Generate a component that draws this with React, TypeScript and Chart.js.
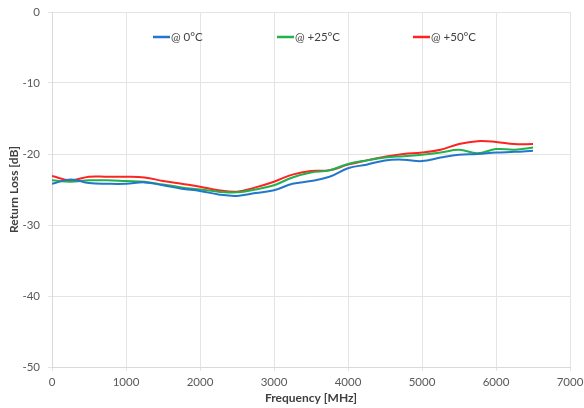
import React, { useEffect, useRef } from "react";
import { Chart, registerables } from "chart.js";

Chart.register(...registerables);

const frequencies = [0, 250, 500, 750, 1000, 1250, 1500, 1750, 2000, 2250, 2500, 2750, 3000, 3250, 3500, 3750, 4000, 4250, 4500, 4750, 5000, 5250, 5500, 5750, 6000, 6250, 6500];
const rl0C = [-24.2, -23.6, -24.1, -24.2, -24.2, -24.0, -24.4, -24.9, -25.2, -25.7, -25.9, -25.5, -25.1, -24.2, -23.8, -23.2, -22.0, -21.5, -20.9, -20.8, -21.0, -20.5, -20.1, -20.0, -19.8, -19.7, -19.55];
const rl25C = [-23.7, -23.9, -23.7, -23.7, -23.8, -23.9, -24.3, -24.7, -25.0, -25.3, -25.4, -25.0, -24.4, -23.3, -22.6, -22.3, -21.4, -20.9, -20.5, -20.3, -20.1, -19.8, -19.4, -19.9, -19.3, -19.4, -19.1];
const rl50C = [-23.1, -23.7, -23.2, -23.2, -23.2, -23.3, -23.8, -24.2, -24.6, -25.1, -25.3, -24.7, -23.9, -22.9, -22.4, -22.3, -21.5, -20.9, -20.4, -20.0, -19.8, -19.4, -18.6, -18.2, -18.3, -18.6, -18.6];
const seriesLabels = ["@ 0°C", "@ +25°C", "@ +50°C"];
const seriesColors = ["#2277c9", "#22b14c", "#ff2222"];

const FONT = "Lato, 'Liberation Sans', sans-serif";

const insideLegend = {
  id: "insideLegend",
  afterDraw(chart: any) {
    const ctx = chart.ctx;
    const area = chart.chartArea;
    const y = area.top + 25;
    const starts = [153, 277, 413];
    ctx.save();
    ctx.font = `11.5px ${FONT}`;
    ctx.textBaseline = "middle";
    chart.data.datasets.forEach((ds: any, i: number) => {
      const x = starts[i];
      ctx.strokeStyle = ds.borderColor;
      ctx.lineWidth = 2.5;
      ctx.beginPath();
      ctx.moveTo(x, y);
      ctx.lineTo(x + 17, y);
      ctx.stroke();
      ctx.fillStyle = "#404040";
      ctx.fillText(ds.label, x + 18, y);
    });
    ctx.restore();
  },
};

export default function App() {
  const ref = useRef<HTMLCanvasElement | null>(null);
  useEffect(() => {
    document.body.style.margin = "0";
    const data = [rl0C, rl25C, rl50C];
    const chart = new Chart(ref.current as HTMLCanvasElement, {
      type: "line",
      data: {
        datasets: data.map((vals, i) => ({
          label: seriesLabels[i],
          data: frequencies.map((f, j) => ({ x: f, y: vals[j] })),
          borderColor: seriesColors[i],
          backgroundColor: seriesColors[i],
          borderWidth: 2,
          pointRadius: 0,
          tension: 0.4,
          fill: false,
        })),
      },
      options: {
        responsive: false,
        animation: false,
        layout: { padding: { left: 0, right: 14, top: 12, bottom: 0 } },
        plugins: { legend: { display: false }, tooltip: { enabled: false } },
        scales: {
          x: {
            type: "linear",
            min: 0,
            max: 7000,
            ticks: { stepSize: 1000, color: "#595959", font: { family: FONT, size: 11.5 }, padding: 4, maxRotation: 0, callback: (v: any) => String(v) },
            grid: { color: "#e4e4e4", tickLength: 4 },
            border: { color: "#d9d9d9" },
            title: { display: true, text: "Frequency [MHz]", color: "#404040", font: { family: FONT, size: 12, weight: "bold" }, padding: { top: 0, bottom: 3 } },
            afterFit: (s: any) => { s.height = 41; s.paddingLeft = 0; s.paddingRight = 0; },
          },
          y: {
            min: -50,
            max: 0,
            ticks: { stepSize: 10, color: "#595959", font: { family: FONT, size: 11.5 }, padding: 8 },
            grid: { color: "#e4e4e4", tickLength: 4 },
            border: { color: "#d9d9d9" },
            title: { display: true, text: "Return Loss [dB]", color: "#404040", font: { family: FONT, size: 12, weight: "bold" }, padding: { top: 7, bottom: 0 } },
            afterFit: (s: any) => { s.width = 52; s.paddingTop = 0; s.paddingBottom = 0; },
          },
        },
      },
      plugins: [insideLegend],
    });
    return () => chart.destroy();
  }, []);
  return (
    <div style={{ width: 584, height: 408 }}>
      <canvas ref={ref} width={584} height={408} />
    </div>
  );
}
